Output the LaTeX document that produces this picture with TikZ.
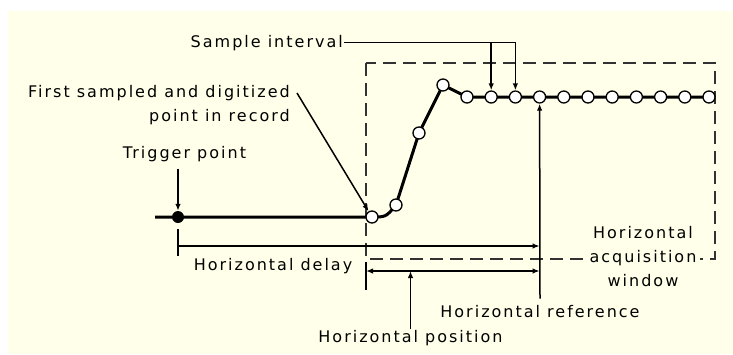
\documentclass[tikz,border=0pt]{standalone}
\usepackage{xcolor}
\usepackage{fontspec}
\newfontfamily\labelfont[LetterSpace=12.5]{DejaVu Sans}
\usetikzlibrary{arrows.meta}
\definecolor{paper}{RGB}{255,255,234}
\definecolor{dashgray}{RGB}{50,50,50}

\begin{document}
\begin{tikzpicture}[x=1pt, y=-1pt,
    lbl/.style={font=\labelfont\fontsize{16}{24}\selectfont, inner sep=1pt},
    guide/.style={line width=1.5pt},
    tip/.style={guide, -{Latex[length=7pt,width=5.5pt]}},
    both/.style={guide, {Latex[length=7pt,width=5.5pt]}-{Latex[length=7pt,width=5.5pt]}},
    wave/.style={line width=3pt, line join=round},
    sample/.style={circle, draw, line width=1.3pt, fill=white, minimum size=12pt, inner sep=0pt},
    trig/.style={circle, fill=black, minimum size=12pt, inner sep=0pt},
    window/.style={draw=dashgray, line width=2pt, dash pattern=on 13pt off 7pt}]
    % Background
    \useasboundingbox (0,0) rectangle (733,354);
    \fill[paper] (8,11) rectangle (733,354);

    % Acquisition window
    \draw[window] (366,63) rectangle (715,259);
    \node[lbl, align=center, fill=paper, inner xsep=4pt, anchor=north] (haw) at (643,225) {Horizontal\\acquisition\\window};

    % Waveform
    \coordinate (w0) at (155,217);
    \coordinate (p1) at (372,217);
    \coordinate (p2) at (396,205);
    \coordinate (p3) at (419,133);
    \coordinate (p4) at (443,85);
    \foreach \i in {0,...,10} \coordinate (q\i) at (467+24.2*\i,97);
    \draw[wave] (w0) -- (p1) .. controls (386,217) .. (p2) -- (p3) -- (p4) -- (q0) -- (q10);
    \foreach \i in {1,...,4} \node[sample] (s\i) at (p\i) {};
    \foreach \i in {0,...,10} \node[sample] (f\i) at (q\i) {};

    % Trigger point
    \node[trig] (tp) at (178,217) {};
    \node[lbl, anchor=base] (tpl) at (184.5,158) {Trigger point};
    \draw[tip, shorten <=6pt] (tpl.south -| tp) -- (tp);

    % First sample
    \node[lbl, align=right, anchor=north east] (fsl) at (291,84) {First sampled and digitized\\point in record};
    \draw[tip] ([shift={(6,9)}]fsl.north east) -- (s1);

    % Sample interval
    \node[lbl, anchor=base east] (sil) at (344,47) {Sample interval};
    \draw[tip] (sil.east) -| (f2);
    \draw[tip] (sil.east -| f1) -- (f1);

    % Horizontal reference
    \node[lbl, anchor=base] (hrl) at (540,317) {Horizontal reference};
    \draw[tip] ([yshift=5pt]hrl.north) -- (f3);

    % Horizontal delay
    \coordinate (dl) at (178,246);
    \draw[guide] (178,229) -- (178,256);
    \draw[tip] (dl) -- (dl -| f3);
    \node[lbl, anchor=base] (hdl) at (273,270) {Horizontal delay};

    % Horizontal position
    \coordinate (pl) at (366,271);
    \draw[guide] (366,262) -- (366,290);
    \draw[both] (pl) -- (pl -| f3);
    \node[lbl, anchor=base] (hpl) at (410.5,342) {Horizontal position};
    \draw[tip] (hpl.north) -- (hpl.north |- pl);
\end{tikzpicture}
\end{document}
